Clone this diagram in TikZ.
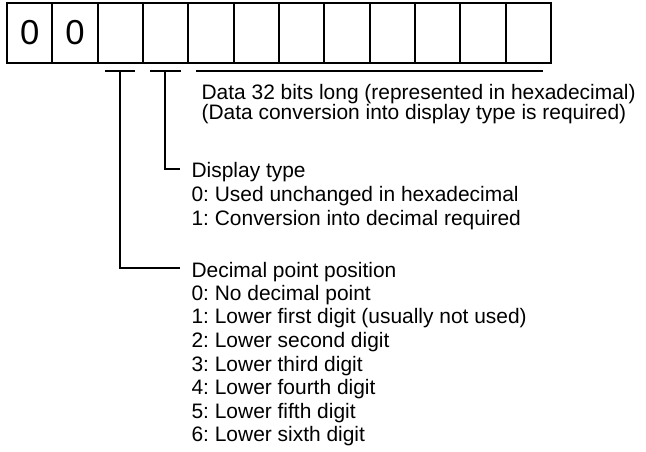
\documentclass[tikz,border=0pt]{standalone}
\usepackage{fontspec}
\setmainfont{Liberation Sans}
\frenchspacing
\tikzset{
  digitcell/.style={rectangle, draw=black, line width=1.5pt,
                minimum width=34pt, minimum height=45pt, inner sep=0pt,
                font=\fontsize{26}{26}\selectfont},
  labeltext/.style={anchor=base west, inner xsep=8.5pt, inner ysep=0pt,
                font=\fontsize{15.7}{15.7}\selectfont},
  bracketline/.style={line width=1.5pt, black},
}

\begin{document}
\begin{tikzpicture}[x=0.75pt, y=-0.75pt]
    % Coordinate map (pixels, y down):
    % cells: 12 x 45.33 wide, from x=7, centre y=33
    % bars at y=71: decimal point 105-135, display type 150-181, data 196-543
    % titles: "Display type" baseline 178, "Decimal point position" baseline 277
    \useasboundingbox (0,0) rectangle (646,452);

    \node[digitcell] (cell0) at ({7+45.33*0.5}, 33) {0};
    \node[digitcell] (cell1) at ({7+45.33*1.5}, 33) {0};
    \foreach \i in {2,...,11}
      \node[digitcell] (cell\i) at ({7+45.33*(\i+0.5)}, 33) {};

    \coordinate (dpbarL) at (105, 71);
    \coordinate (dpbar) at (120, 71);
    \coordinate (dpbarR) at (135, 71);
    \coordinate (dtbarL) at (150, 71);
    \coordinate (dtbar) at (165, 71);
    \coordinate (dtbarR) at (181, 71);
    \coordinate (databarL) at (196, 71);
    \coordinate (databarR) at (543, 71);

    \draw[bracketline] (dpbarL) -- (dpbarR);
    \draw[bracketline] (dtbarL) -- (dtbarR);
    \draw[bracketline] (databarL) -- (databarR);

    % base anchor of a two-line node sits on the last line
    \node[labeltext, align=left, font=\fontsize{15.7}{13.5}\selectfont] (datatext) at (190, 120)
      {Data 32 bits long (represented in hexadecimal)\\(Data conversion into display type is required)};

    \node[labeltext] (dttitle) at (180, 178) {Display type};
    \foreach \txt [count=\k] in {0: Used unchanged in hexadecimal,
                                 1: Conversion into decimal required}
      \node[labeltext] (dt\k) at (180, {178+24*\k}) {\txt};

    \node[labeltext] (dptitle) at (180, 277) {Decimal point position};
    \foreach \txt [count=\k] in {0: No decimal point,
                                 1: Lower first digit (usually not used),
                                 2: Lower second digit,
                                 3: Lower third digit,
                                 4: Lower fourth digit,
                                 5: Lower fifth digit,
                                 6: Lower sixth digit}
      \node[labeltext] (dp\k) at (180, {277+23.5*\k}) {\txt};

    \draw[bracketline] (dtbar) |- ([yshift=6.75pt]dttitle.base west);
    \draw[bracketline] (dpbar) |- ([yshift=6.75pt]dptitle.base west);
\end{tikzpicture}
\end{document}
